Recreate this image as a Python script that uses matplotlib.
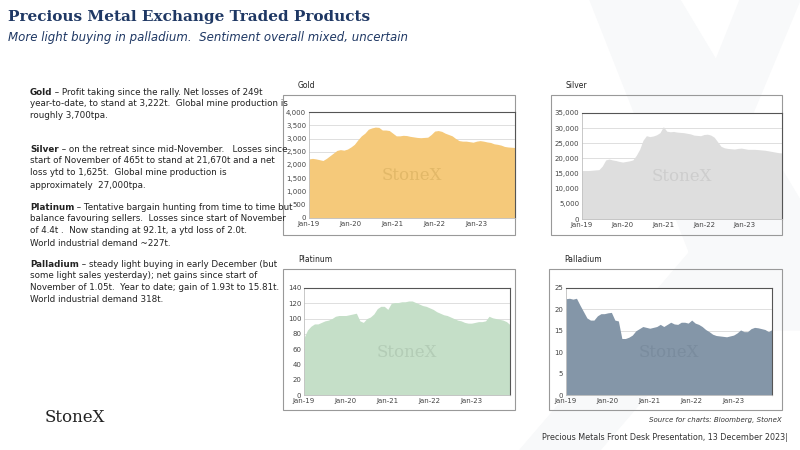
import numpy as np
import matplotlib.pyplot as plt
from matplotlib.patches import Rectangle
from matplotlib.ticker import FuncFormatter

# monthly estimates, Jan-19 .. Dec-23
gold = [2230, 2250, 2230, 2200, 2170, 2250, 2350, 2450, 2550, 2580, 2560, 2600,
        2680, 2780, 2950, 3100, 3200, 3350, 3400, 3430, 3420, 3320, 3320, 3300,
        3200, 3100, 3100, 3120, 3110, 3080, 3060, 3040, 3030, 3040, 3050, 3150,
        3280, 3300, 3270, 3200, 3150, 3100, 3000, 2920, 2900, 2900, 2880, 2860,
        2900, 2920, 2900, 2870, 2850, 2800, 2780, 2750, 2700, 2680, 2670, 2660]
silver = [16000, 16000, 16000, 16100, 16200, 16300, 17500, 19500, 19800, 19500, 19300, 19000,
          18800, 19000, 19200, 19500, 21000, 23000, 26000, 27500, 27200, 27400, 27800, 28500,
          30500, 29000, 28800, 28900, 28700, 28600, 28500, 28300, 28100, 27700, 27600, 27500,
          27900, 28000, 27700, 27000, 25500, 24000, 23500, 23300, 23200, 23100, 23300, 23400,
          23200, 23000, 23000, 23000, 22900, 22800, 22700, 22500, 22300, 22100, 21900, 21800]
platinum = [75, 85, 90, 93, 93, 95, 97, 98, 100, 103, 104, 104,
            104, 105, 106, 107, 97, 95, 100, 102, 106, 113, 116, 116,
            112, 120, 121, 121, 122, 122, 123, 123, 121, 119, 117, 116,
            114, 112, 109, 107, 105, 104, 102, 100, 98, 97, 95, 94,
            94, 95, 96, 96, 97, 103, 101, 100, 99, 98, 96, 92]
palladium = [22.5, 22.6, 22.4, 22.6, 21, 19.5, 18, 17.5, 17.5, 18.5, 19, 19,
             19.2, 19.3, 17.5, 17.3, 13.2, 13.2, 13.5, 14, 15, 15.5, 16, 15.8,
             15.6, 15.8, 16, 16.5, 16, 16.5, 17, 16.6, 16.5, 17, 17, 16.8,
             17.5, 16.8, 16.5, 16, 15.3, 14.8, 14.2, 13.9, 13.8, 13.7, 13.6, 13.8,
             14, 14.5, 15.2, 14.8, 14.8, 15.5, 15.8, 15.7, 15.5, 15.3, 14.8, 15.3]
tick_labels = ['Jan-19', 'Jan-20', 'Jan-21', 'Jan-22', 'Jan-23']

months = 2019 + np.arange(60) / 12.0
W, H = 800, 450

fig = plt.figure(figsize=(8, 4.5), dpi=100)
fig.patch.set_facecolor('white')

# faint watermark X in the background
bg = fig.add_axes([0, 0, 1, 1], zorder=-5)
bg.set_xlim(0, W); bg.set_ylim(H, 0); bg.axis('off')
bg.fill([590, 680, 800, 800, 720], [0, 0, 200, 330, 330], color='#f8f9fa')
bg.fill([800, 740, 660, 700], [0, 0, 200, 240], color='#f8f9fa')
bg.fill([520, 600, 780, 700], [450, 450, 240, 240], color='#f8f9fa')


def px(l, t, r, b):
    return [l / W, 1 - b / H, (r - l) / W, (b - t) / H]


def panel(vals, name, color, box, ax_px, ymax, step, fmt, wm):
    bg.add_patch(Rectangle((box[0], box[1]), box[2] - box[0], box[3] - box[1],
                           fill=False, edgecolor='#999999', lw=0.8))
    bg.text(box[0] + 15, box[1] - 10, name, fontsize=5.5, color='#222222', va='center')
    ax = fig.add_axes(px(*ax_px))
    ax.fill_between(months, vals, color=color, lw=0)
    ax.set_xlim(2019, 2023 + 11 / 12)
    ax.set_ylim(0, ymax)
    ax.set_yticks(np.arange(0, ymax + 1e-9, step))
    ax.yaxis.set_major_formatter(FuncFormatter(fmt))
    ax.set_xticks([2019, 2020, 2021, 2022, 2023])
    ax.set_xticklabels(tick_labels)
    ax.tick_params(labelsize=5, colors='#444444', length=0, pad=2)
    ax.grid(axis='y', color='#d9d9d9', lw=0.6)
    ax.set_axisbelow(True)
    for s in ['top', 'right']:
        ax.spines[s].set_color('#555555'); ax.spines[s].set_linewidth(0.8)
    for s in ['left', 'bottom']:
        ax.spines[s].set_color('#bfbfbf'); ax.spines[s].set_linewidth(0.6)
    ax.text(0.5, 0.4, 'StoneX', transform=ax.transAxes, ha='center', va='center',
            fontsize=12, family='DejaVu Serif', color=wm, zorder=5)
    return ax


comma = lambda v, p: f'{int(v):,}'
plain = lambda v, p: f'{int(v)}'

panel(gold, 'Gold', '#f5c97a', (283, 95, 515, 235), (309, 112, 515, 218),
      4000, 500, comma, '#e2b868')
panel(silver, 'Silver', '#dedede', (551, 95, 782, 235), (582, 113, 782, 219),
      35000, 5000, comma, '#cdcdcd')
panel(platinum, 'Platinum', '#c5dfc8', (283, 269, 515, 410), (304, 288, 510, 395),
      140, 20, plain, '#b3ccb6')
panel(palladium, 'Palladium', '#8496a8', (549, 269, 782, 410), (566, 288, 772, 395),
      25, 5, plain, '#7a8c9e')

# header
bg.text(8, 17, 'Precious Metal Exchange Traded Products', fontsize=11, fontweight='bold',
        family='DejaVu Serif', color='#1f3864', va='center')
bg.text(8, 38, 'More light buying in palladium.  Sentiment overall mixed, uncertain',
        fontsize=8.5, style='italic', color='#1f3864', va='center')

paras = [
    (88, 'Gold', ' – Profit taking since the rally. Net losses of 249t\nyear-to-date, to stand at 3,222t.  Global mine production is\nroughly 3,700tpa.'),
    (145, 'Silver', ' – on the retreat since mid-November.   Losses since\nstart of November of 465t to stand at 21,670t and a net\nloss ytd to 1,625t.  Global mine production is\napproximately  27,000tpa.'),
    (203, 'Platinum', ' – Tentative bargain hunting from time to time but\nbalance favouring sellers.  Losses since start of November\nof 4.4t .  Now standing at 92.1t, a ytd loss of 2.0t.\nWorld industrial demand ~227t.'),
    (260, 'Palladium', ' – steady light buying in early December (but\nsome light sales yesterday); net gains since start of\nNovember of 1.05t.  Year to date; gain of 1.93t to 15.81t.\nWorld industrial demand 318t.'),
]
for y, head, body in paras:
    lines = body.split('\n')
    t = bg.text(30, y, head, fontsize=6.3, fontweight='bold', color='#222222', va='top')
    fig.canvas.draw()
    bb = t.get_window_extent()
    bg.text(30 + bb.width, y, lines[0], fontsize=6.3, color='#222222', va='top')
    bg.text(30, y + 11.2, '\n'.join(lines[1:]), fontsize=6.3, color='#222222', va='top',
            linespacing=1.45)

bg.text(45, 418, 'StoneX', fontsize=12, family='DejaVu Serif', color='#222222', va='center')
bg.text(782, 420, 'Source for charts: Bloomberg, StoneX', fontsize=5, style='italic',
        color='#333333', ha='right', va='center')
bg.text(788, 437, 'Precious Metals Front Desk Presentation, 13 December 2023|', fontsize=5.8,
        color='#333333', ha='right', va='center')

fig.savefig('out.png', dpi=100)
